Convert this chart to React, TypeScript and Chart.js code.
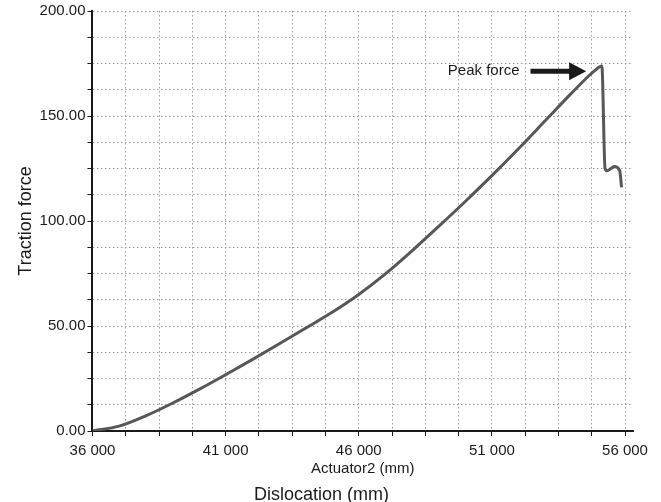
import React, { useEffect, useRef } from "react";
import { Chart, registerables } from "chart.js";

Chart.register(...registerables);

// Data
const dislocation = [36000, 37000, 38000, 39000, 40000, 41000, 42000, 43000, 44000, 45000, 46000, 47000, 48000, 49000, 50000, 51000, 52000, 53000, 54000, 54500, 54850, 55130, 55250, 55330, 55600, 55800, 55870];
const tractionForce = [0, 2.3, 7.2, 13.2, 19.8, 26.8, 34.0, 41.4, 48.9, 56.5, 65.0, 74.8, 85.8, 97.4, 109.3, 121.6, 134.4, 147.7, 161.0, 167.4, 171.5, 173.8, 125.0, 123.9, 125.9, 124.0, 116.0];

const xTickLabels = [36000, 41000, 46000, 51000, 56000];
const yTickLabels = [0, 50, 100, 150, 200];
const xGridStep = 1250;
const yGridStep = 12.5;

const peakLabel = "Peak force";
const peakArrowFrom = [52450, 171.3];
const peakArrowTo = [54540, 171.3];

const FONT = "'Liberation Sans', Arial, Helvetica, sans-serif";

const peakPlugin = {
  id: "peakAnnotation",
  afterDatasetsDraw(chart: any) {
    const { ctx, scales } = chart;
    const x = scales.x;
    const y = scales.y;
    const x1 = x.getPixelForValue(peakArrowFrom[0]);
    const y1 = y.getPixelForValue(peakArrowFrom[1]);
    const x2 = x.getPixelForValue(peakArrowTo[0]);
    const y2 = y.getPixelForValue(peakArrowTo[1]);
    ctx.save();
    ctx.fillStyle = "#1a1a1a";
    ctx.strokeStyle = "#1a1a1a";
    ctx.lineWidth = 5;
    ctx.beginPath();
    ctx.moveTo(x1, y1);
    ctx.lineTo(x2 - 14, y2);
    ctx.stroke();
    ctx.beginPath();
    ctx.moveTo(x2, y2);
    ctx.lineTo(x2 - 17, y2 - 9);
    ctx.lineTo(x2 - 17, y2 + 9);
    ctx.closePath();
    ctx.fill();
    ctx.font = `15px ${FONT}`;
    ctx.textAlign = "right";
    ctx.textBaseline = "middle";
    ctx.fillText(peakLabel, x1 - 11, y1);
    ctx.restore();
  },
};

function buildTicks(min: number, max: number, step: number) {
  const out: { value: number }[] = [];
  for (let v = min; v <= max + 1e-9; v += step) out.push({ value: v });
  return out;
}

export default function App() {
  const canvasRef = useRef<HTMLCanvasElement | null>(null);

  useEffect(() => {
    if (!canvasRef.current) return;
    const chart = new Chart(canvasRef.current, {
      type: "line",
      data: {
        datasets: [
          {
            data: dislocation.map((v, i) => ({ x: v, y: tractionForce[i] })),
            borderColor: "#575757",
            borderWidth: 3,
            pointRadius: 0,
            fill: false,
            cubicInterpolationMode: "monotone",
          },
        ],
      },
      options: {
        animation: false,
        responsive: false,
        maintainAspectRatio: false,
        layout: { padding: { top: 3, right: 28, left: 10, bottom: -2 } },
        plugins: {
          legend: { display: false },
          tooltip: { enabled: false },
          title: {
            display: true,
            position: "bottom",
            text: "Dislocation (mm)",
            color: "#1a1a1a",
            font: { family: FONT, size: 18, weight: "normal", lineHeight: 1 },
            padding: { top: 0, bottom: 0 },
          },
        },
        scales: {
          x: {
            type: "linear",
            min: 36000,
            max: 56300,
            afterBuildTicks: (scale: any) => {
              scale.ticks = buildTicks(xTickLabels[0], xTickLabels[xTickLabels.length - 1], xGridStep);
            },
            ticks: {
              autoSkip: false,
              maxRotation: 0,
              padding: 6,
              color: "#1a1a1a",
              font: { family: FONT, size: 15 },
              callback: (v: any) => {
                const n = Number(v);
                return xTickLabels.includes(n) ? String(n).replace(/(\d{2})(\d{3})$/, "$1 $2") : "";
              },
            },
            grid: {
              color: "#9a9a9a",
              lineWidth: 1,
              drawTicks: true,
              tickLength: 5,
              tickColor: "#1a1a1a",
              tickWidth: 1,
            },
            border: { color: "#1a1a1a", width: 2, dash: [1.5, 2.5] },
            title: {
              display: true,
              text: "Actuator2 (mm)",
              color: "#1a1a1a",
              font: { family: FONT, size: 15, lineHeight: 1.2 },
              padding: { top: -6, bottom: 8 },
            },
          },
          y: {
            type: "linear",
            min: 0,
            max: 200,
            afterBuildTicks: (scale: any) => {
              scale.ticks = buildTicks(yTickLabels[0], yTickLabels[yTickLabels.length - 1], yGridStep);
            },
            ticks: {
              autoSkip: false,
              padding: 2,
              color: "#1a1a1a",
              font: { family: FONT, size: 15 },
              callback: (v: any) => {
                const n = Number(v);
                return yTickLabels.includes(n) ? n.toFixed(2) : "";
              },
            },
            grid: {
              color: "#9a9a9a",
              lineWidth: 1,
              drawTicks: true,
              tickLength: 5,
              tickColor: "#1a1a1a",
              tickWidth: 1,
            },
            border: { color: "#1a1a1a", width: 2, dash: [1.5, 2.5] },
            title: {
              display: true,
              text: "Traction force",
              color: "#1a1a1a",
              font: { family: FONT, size: 18, lineHeight: 1.2 },
              padding: { top: 5, bottom: 1 },
            },
          },
        },
      },
      plugins: [peakPlugin],
    } as any);
    return () => chart.destroy();
  }, []);

  return (
    <div style={{ position: "fixed", left: 0, top: 0, width: 661, height: 502, background: "#fff" }}>
      <canvas ref={canvasRef} width={661} height={502} style={{ width: 661, height: 502 }} />
    </div>
  );
}
